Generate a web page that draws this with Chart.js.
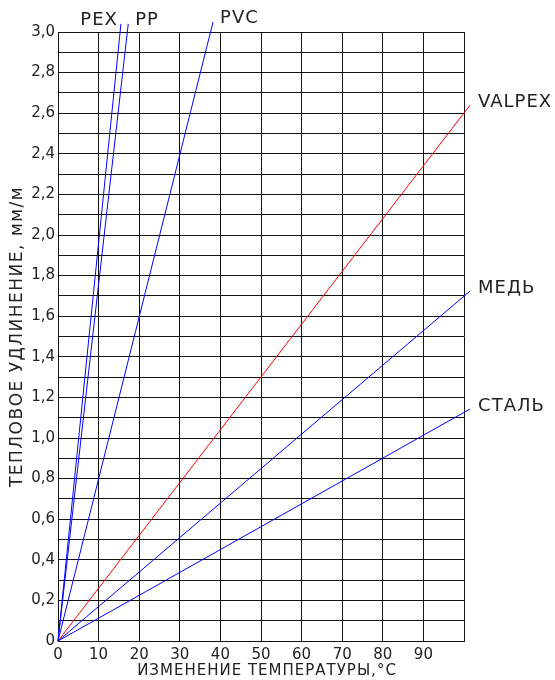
<!DOCTYPE html>
<html lang="ru">
<head>
    <meta charset="UTF-8">
    <title>Тепловое удлинение</title>
    <script src="https://cdn.jsdelivr.net/npm/chart.js"></script>
    <style>
        body {
            margin: 0;
            background: #fff;
        }
        .chart-container {
            width: 555px;
            height: 680px;
        }
    </style>
</head>
<body>
    <div class="chart-container">
        <canvas id="expansionChart"></canvas>
    </div>

    <script>
        // materials and their lines (start at 0, end)
        const materials = ['PEX', 'PP', 'PVC', 'VALPEX', 'МЕДЬ', 'СТАЛЬ'];
        const pexX = [0, 15.5], pexY = [0, 3.04];
        const ppX = [0, 17.3], ppY = [0, 3.04];
        const pvcX = [0, 38.2], pvcY = [0, 3.05];
        const valpexX = [0, 101.5], valpexY = [0, 2.64];
        const copperX = [0, 101.5], copperY = [0, 1.724];
        const steelX = [0, 101.5], steelY = [0, 1.143];

        const xTickLabels = ['0', '10', '20', '30', '40', '50', '60', '70', '80', '90'];
        const yTickLabels = ['0', '0,2', '0,4', '0,6', '0,8', '1,0', '1,2', '1,4', '1,6', '1,8', '2,0', '2,2', '2,4', '2,6', '2,8', '3,0'];

        const xTitle = 'ИЗМЕНЕНИЕ ТЕМПЕРАТУРЫ,°C';
        const yTitle = 'ТЕПЛОВОЕ УДЛИНЕНИЕ, мм/м';

        const FONT = '"DejaVu Sans", sans-serif';

        function toPoints(xs, ys) {
            return xs.map((x, i) => ({ x: x, y: ys[i] }));
        }

        const seriesX = [pexX, ppX, pvcX, valpexX, copperX, steelX];
        const seriesY = [pexY, ppY, pvcY, valpexY, copperY, steelY];
        const colors = ['#0000ff', '#0000ff', '#0000ff', '#ff0000', '#0000ff', '#0000ff'];

        const datasets = materials.map((name, i) => ({
            label: name,
            data: toPoints(seriesX[i], seriesY[i]),
            borderColor: colors[i],
            borderWidth: 1,
            pointRadius: 0,
            fill: false,
            clip: false
        }));

        // names at the end of each line, axis titles with letter spacing
        const labelsPlugin = {
            id: 'labels',
            afterDraw(chart) {
                const ctx = chart.ctx;
                const area = chart.chartArea;
                ctx.save();
                ctx.fillStyle = '#222';
                ctx.textBaseline = 'middle';
                ctx.font = '18px ' + FONT;
                ctx.letterSpacing = '1px';
                chart.data.datasets.forEach((ds, i) => {
                    const meta = chart.getDatasetMeta(i);
                    const end = meta.data[meta.data.length - 1];
                    if (i === 0) {
                        ctx.textAlign = 'right';
                        ctx.fillText(ds.label, end.x - 3, end.y - 4);
                    } else if (i < 3) {
                        ctx.textAlign = 'left';
                        ctx.fillText(ds.label, end.x + 7, end.y - 4);
                    } else {
                        ctx.textAlign = 'left';
                        ctx.fillText(ds.label, end.x + 8, end.y - 3);
                    }
                });

                ctx.textAlign = 'center';
                ctx.font = '15px ' + FONT;
                ctx.letterSpacing = '1px';
                ctx.fillText(xTitle, (area.left + area.right) / 2 + 6, 671);

                ctx.translate(18, (area.top + area.bottom) / 2);
                ctx.rotate(-Math.PI / 2);
                ctx.font = '17px ' + FONT;
                ctx.letterSpacing = '1.5px';
                ctx.fillText(yTitle, 0, 0);
                ctx.restore();
            }
        };

        const ctx = document.getElementById('expansionChart').getContext('2d');
        const chart = new Chart(ctx, {
            type: 'line',
            data: { datasets: datasets },
            plugins: [labelsPlugin],
            options: {
                responsive: true,
                maintainAspectRatio: false,
                animation: false,
                layout: {
                    padding: { top: 32, right: 91, left: 0, bottom: 0 }
                },
                plugins: {
                    legend: { display: false },
                    tooltip: { enabled: false }
                },
                scales: {
                    x: {
                        type: 'linear',
                        min: 0,
                        max: 100,
                        afterFit(scale) { scale.height = 39; },
                        grid: { color: '#111', lineWidth: 1, drawTicks: false },
                        border: { color: '#111', width: 1 },
                        ticks: {
                            stepSize: 10,
                            padding: 5,
                            color: '#222',
                            font: { family: FONT, size: 15 },
                            callback: (v) => xTickLabels[Math.round(v / 10)] || ''
                        }
                    },
                    y: {
                        min: 0,
                        max: 3,
                        afterFit(scale) { scale.width = 58; },
                        grid: { color: '#111', lineWidth: 1, drawTicks: false },
                        border: { color: '#111', width: 1 },
                        ticks: {
                            stepSize: 0.1,
                            padding: 3,
                            autoSkip: false,
                            color: '#222',
                            font: { family: FONT, size: 15 },
                            callback: (v) => {
                                const n = Math.round(v * 10);
                                return n % 2 === 0 ? yTickLabels[n / 2] : '';
                            }
                        }
                    }
                }
            }
        });
    </script>
</body>
</html>
